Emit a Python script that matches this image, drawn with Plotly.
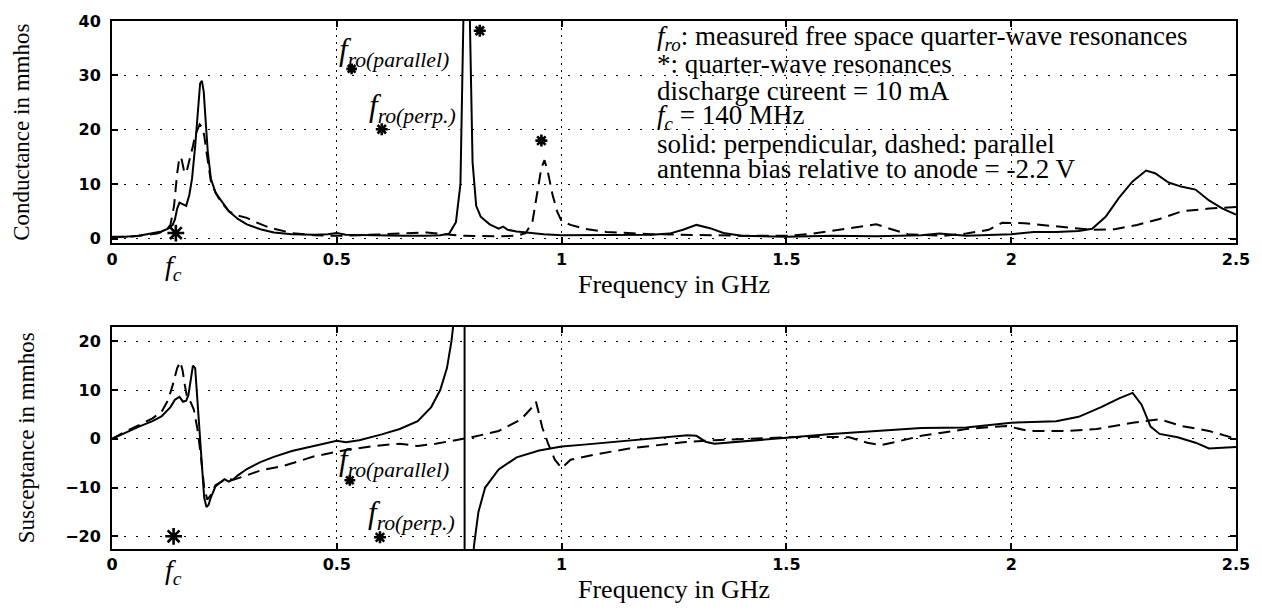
import plotly.graph_objects as go

# ---------------- data ----------------
# Conductance, perpendicular (solid)
g_freq_perp = [0.00, 0.03, 0.06, 0.09, 0.11, 0.125, 0.135, 0.14, 0.145, 0.15, 0.158, 0.165, 0.172, 0.178,
               0.185, 0.19, 0.196, 0.20, 0.204, 0.208, 0.213, 0.22, 0.23, 0.24, 0.26, 0.28, 0.30, 0.33,
               0.36, 0.40, 0.45, 0.48, 0.50, 0.52, 0.56, 0.60, 0.65, 0.70, 0.73, 0.75, 0.765, 0.775,
               0.781, 0.788, 0.796, 0.802, 0.81, 0.82, 0.84, 0.86, 0.87, 0.88, 0.90, 0.93, 0.96, 1.00,
               1.10, 1.20, 1.24, 1.27, 1.30, 1.33, 1.36, 1.40, 1.50, 1.60, 1.70, 1.80, 1.84, 1.90,
               2.00, 2.05, 2.10, 2.15, 2.18, 2.21, 2.24, 2.27, 2.30, 2.32, 2.35, 2.38, 2.41, 2.44,
               2.47, 2.50]
g_perp = [0.3, 0.3, 0.5, 0.9, 1.3, 1.8, 2.5, 3.5, 5.5, 6.6, 6.3, 6.0, 8.0, 11,
          17, 22, 28.5, 29, 27, 22, 16, 11, 8.5, 7.3, 5.0, 3.6, 2.6, 1.7,
          1.1, 0.8, 0.7, 0.8, 1.0, 0.7, 0.6, 0.5, 0.5, 0.5, 0.6, 0.9, 3.0, 10,
          40, 70, 40, 14, 6.0, 4.0, 2.6, 1.8, 2.2, 1.6, 1.3, 1.0, 0.8, 0.6,
          0.6, 0.7, 0.9, 1.6, 2.5, 1.9, 1.0, 0.5, 0.3, 0.5, 0.4, 0.6, 0.9, 0.5,
          0.8, 1.2, 1.2, 1.4, 1.8, 4.0, 7.5, 10.5, 12.5, 12.0, 10.3, 9.5, 9.0, 7.0,
          5.5, 4.4]

# Conductance, parallel (dashed)
g_freq_par = [0.00, 0.05, 0.10, 0.12, 0.13, 0.138, 0.145, 0.15, 0.155, 0.16, 0.165, 0.17, 0.175, 0.18,
              0.185, 0.19, 0.195, 0.20, 0.205, 0.21, 0.215, 0.22, 0.23, 0.24, 0.26, 0.28, 0.30, 0.32,
              0.35, 0.40, 0.45, 0.50, 0.55, 0.60, 0.65, 0.70, 0.74, 0.78, 0.85, 0.90, 0.92, 0.935,
              0.945, 0.955, 0.962, 0.97, 0.98, 0.99, 1.00, 1.02, 1.05, 1.10, 1.20, 1.30, 1.40, 1.50,
              1.55, 1.60, 1.65, 1.70, 1.73, 1.77, 1.85, 1.90, 1.95, 1.98, 2.03, 2.08, 2.13, 2.18,
              2.23, 2.28, 2.33, 2.38, 2.44, 2.50]
g_par = [0.2, 0.4, 0.9, 1.5, 2.5, 6.0, 12, 15, 14.5, 12.5, 12, 13.5, 15, 17,
         19, 20, 21, 20.5, 19, 16, 13, 10.5, 8.5, 7.0, 5.0, 4.2, 3.8, 3.0,
         2.0, 1.0, 0.6, 0.5, 0.6, 0.8, 1.0, 1.1, 0.8, 0.5, 0.4, 0.5, 1.0, 3.0,
         8.0, 13, 14.4, 12, 8.0, 5.0, 3.2, 2.5, 1.8, 1.2, 0.8, 0.6, 0.5, 0.5,
         0.8, 1.4, 2.0, 2.6, 1.8, 0.8, 0.5, 0.9, 1.6, 2.9, 2.8, 2.4, 2.0, 1.6,
         1.7, 2.5, 3.6, 5.0, 5.5, 5.8]

# Susceptance, perpendicular (solid)
b_freq_perp = [0.00, 0.03, 0.06, 0.09, 0.11, 0.13, 0.14, 0.15, 0.158, 0.165, 0.17, 0.175, 0.18, 0.185,
               0.19, 0.195, 0.20, 0.205, 0.21, 0.215, 0.22, 0.23, 0.24, 0.25, 0.26, 0.27, 0.28, 0.30,
               0.33, 0.36, 0.40, 0.45, 0.50, 0.52, 0.55, 0.60, 0.64, 0.68, 0.71, 0.73, 0.745, 0.755,
               0.765, 0.775, 0.784, 0.7845, 0.79, 0.797, 0.805, 0.815, 0.83, 0.86, 0.90, 0.95, 1.00,
               1.05, 1.10, 1.15, 1.20, 1.25, 1.28, 1.30, 1.32, 1.34, 1.40, 1.50, 1.60, 1.70, 1.80,
               1.90, 2.00, 2.10, 2.15, 2.20, 2.24, 2.27, 2.29, 2.31, 2.33, 2.37, 2.41, 2.44, 2.47, 2.50]
b_perp = [0.0, 1.3, 2.5, 3.6, 4.6, 6.5, 8.0, 8.6, 7.6, 7.8, 9.0, 12, 15, 14.5,
          8.0, 0.0, -7.0, -12, -14, -13.5, -12, -9.8, -9.0, -8.3, -8.8, -8.3, -7.5, -6.2,
          -4.8, -3.7, -2.5, -1.5, -0.4, -0.7, -0.3, 0.9, 2.0, 3.6, 6.5, 10, 14.5, 20,
          28, 50, 400, -400, -60, -35, -22, -15, -10, -6.3, -3.8, -2.4, -1.6,
          -1.2, -0.8, -0.4, 0.0, 0.4, 0.7, 0.6, -0.6, -1.0, -0.6, 0.2, 1.0, 1.6, 2.2,
          2.3, 3.3, 3.6, 4.5, 6.5, 8.3, 9.4, 7.0, 2.5, 1.0, 0.3, -0.8, -2.0, -1.8, -1.7]

# Susceptance, parallel (dashed)
b_freq_par = [0.00, 0.03, 0.06, 0.09, 0.11, 0.125, 0.135, 0.145, 0.152, 0.157, 0.162, 0.168, 0.175, 0.182,
              0.19, 0.197, 0.205, 0.212, 0.22, 0.23, 0.24, 0.25, 0.26, 0.27, 0.30, 0.33, 0.38, 0.45,
              0.52, 0.58, 0.64, 0.68, 0.72, 0.76, 0.80, 0.86, 0.91, 0.93, 0.943, 0.95, 0.957, 0.97,
              0.985, 1.00, 1.02, 1.07, 1.15, 1.27, 1.34, 1.42, 1.50, 1.58, 1.64, 1.68, 1.71, 1.75,
              1.80, 1.85, 1.90, 1.95, 1.99, 2.04, 2.12, 2.19, 2.27, 2.33, 2.38, 2.44, 2.50]
b_par = [0.0, 1.5, 2.8, 4.2, 5.5, 8.0, 11, 14.5, 15.8, 14, 11, 8.0, 7.5, 6.0,
         2.0, -3.0, -10, -12.5, -11.5, -9.5, -9.0, -8.5, -8.3, -8.4, -7.5, -6.5, -5.6, -3.6,
         -2.3, -1.5, -1.0, -1.5, -1.0, -0.3, 0.3, 1.6, 4.0, 6.0, 7.6, 5.0, 2.3, -1.0,
         -4.3, -6.0, -4.3, -3.3, -2.0, -0.7, -0.3, 0.0, 0.3, 0.4, 0.3, -0.8, -1.3, -0.5,
         0.6, 1.3, 2.0, 2.4, 2.6, 1.6, 1.6, 2.0, 3.3, 4.0, 2.6, 1.6, 0.0]

# Resonance markers (*)
g_star_freq = [0.142, 0.533, 0.600, 0.818, 0.955]
g_star_val = [1.0, 31.2, 20.1, 38.2, 18.0]
g_star_size = [14, 9, 10, 10, 10]
b_star_freq = [0.137, 0.529, 0.596]
b_star_val = [-20.0, -8.5, -20.2]
b_star_size = [14, 9, 10]

x_ticks = [0, 0.5, 1, 1.5, 2, 2.5]
x_tick_text = ["0", "0.5", "1", "1.5", "2", "2.5"]
g_ticks = [0, 10, 20, 30, 40]
b_ticks = [-20, -10, 0, 10, 20]

notes = [
    "<i>f</i><sub><i>ro</i></sub>: measured free space quarter-wave resonances",
    "*: quarter-wave resonances",
    "discharge cureent = 10 mA",
    "<i>f</i><sub><i>c</i></sub> = 140 MHz",
    "solid: perpendicular, dashed: parallel",
    "antenna bias relative to anode = -2.2 V",
]

# ---------------- figure ----------------
SERIF = "Liberation Serif, Times New Roman, serif"
TICKFONT = dict(family="DejaVu Sans, Arial, sans-serif", size=16, color="black", weight="bold")

fig = go.Figure()
solid = dict(color="black", width=2)
dashed = dict(color="black", width=2, dash="12px,7px")
star_marker = dict(symbol="asterisk", color="#000000", opacity=1,
                   line=dict(color="#000000", width=2.6))

fig.add_trace(go.Scatter(x=g_freq_perp, y=g_perp, mode="lines", line=solid, xaxis="x", yaxis="y"))
fig.add_trace(go.Scatter(x=g_freq_par, y=g_par, mode="lines", line=dashed, xaxis="x", yaxis="y"))
fig.add_trace(go.Scatter(x=g_star_freq, y=g_star_val, mode="markers",
                         marker=dict(star_marker, size=g_star_size),
                         xaxis="x", yaxis="y"))
fig.add_trace(go.Scatter(x=b_freq_perp, y=b_perp, mode="lines", line=solid, xaxis="x2", yaxis="y2"))
fig.add_trace(go.Scatter(x=b_freq_par, y=b_par, mode="lines", line=dashed, xaxis="x2", yaxis="y2"))
fig.add_trace(go.Scatter(x=b_star_freq, y=b_star_val, mode="markers",
                         marker=dict(star_marker, size=b_star_size),
                         xaxis="x2", yaxis="y2"))

common = dict(showline=True, linecolor="black", linewidth=2, mirror="ticks",
              ticks="inside", ticklen=6, tickwidth=1.6, tickcolor="black",
              showgrid=True, gridcolor="black", gridwidth=1, zeroline=False,
              tickfont=TICKFONT)

xcommon = dict(common, range=[0, 2.5], tickvals=x_ticks, ticktext=x_tick_text,
               griddash="2px,5px")
ycommon = dict(common, griddash="2px,10px", ticklabelstandoff=6)

xtitle_font = dict(family=SERIF, size=26, color="black")
ytitle_font = dict(family=SERIF, size=23, color="black")

fig.update_layout(
    width=1262, height=611,
    margin=dict(l=112, r=25, t=13, b=52),
    paper_bgcolor="white", plot_bgcolor="white",
    showlegend=False,
    xaxis=dict(xcommon, domain=[0, 1], anchor="y",
               title=dict(text="Frequency in GHz", font=xtitle_font, standoff=7)),
    yaxis=dict(ycommon, domain=[0.5788, 1], anchor="x", range=[-0.9, 40], tickvals=g_ticks,
               title=dict(text="Conductance in mmhos", font=ytitle_font, standoff=42)),
    xaxis2=dict(xcommon, domain=[0, 1], anchor="y2",
                title=dict(text="Frequency in GHz", font=xtitle_font, standoff=7)),
    yaxis2=dict(ycommon, domain=[0, 0.4212], anchor="x2", range=[-22.6, 23], tickvals=b_ticks,
                title=dict(text="Susceptance in mmhos", font=ytitle_font, standoff=24)),
)

annotations = []
note_y = [36.9, 32.1, 27.1, 22.3, 17.3, 12.7]
for txt, yy in zip(notes, note_y):
    annotations.append(dict(x=1.207, y=yy, xref="x", yref="y", text=txt, showarrow=False,
                            xanchor="left", yanchor="middle",
                            font=dict(family=SERIF, size=27, color="black")))

lab_font = dict(family=SERIF, size=31, color="black")
annotations += [
    dict(x=0.500, y=34.3, xref="x", yref="y", text="<i>f</i><sub><i>ro(parallel)</i></sub>",
         showarrow=False, xanchor="left", yanchor="middle", font=lab_font),
    dict(x=0.567, y=24.0, xref="x", yref="y", text="<i>f</i><sub><i>ro(perp.)</i></sub>",
         showarrow=False, xanchor="left", yanchor="middle", font=lab_font),
    dict(x=0.500, y=-4.8, xref="x2", yref="y2", text="<i>f</i><sub><i>ro(parallel)</i></sub>",
         showarrow=False, xanchor="left", yanchor="middle", font=lab_font),
    dict(x=0.565, y=-15.6, xref="x2", yref="y2", text="<i>f</i><sub><i>ro(perp.)</i></sub>",
         showarrow=False, xanchor="left", yanchor="middle", font=lab_font),
    # f_c labels under the frequency axes (x in GHz, y just below the axis)
    dict(x=0.136, y=-0.11, xref="x", yref="y domain", text="<i>f</i><sub><i>c</i></sub>",
         showarrow=False, xanchor="center", yanchor="middle", font=dict(family=SERIF, size=28, color="black")),
    dict(x=0.136, y=-0.10, xref="x2", yref="y2 domain", text="<i>f</i><sub><i>c</i></sub>",
         showarrow=False, xanchor="center", yanchor="middle", font=dict(family=SERIF, size=28, color="black")),
]
fig.update_layout(annotations=annotations)

fig.write_html("out.html")
